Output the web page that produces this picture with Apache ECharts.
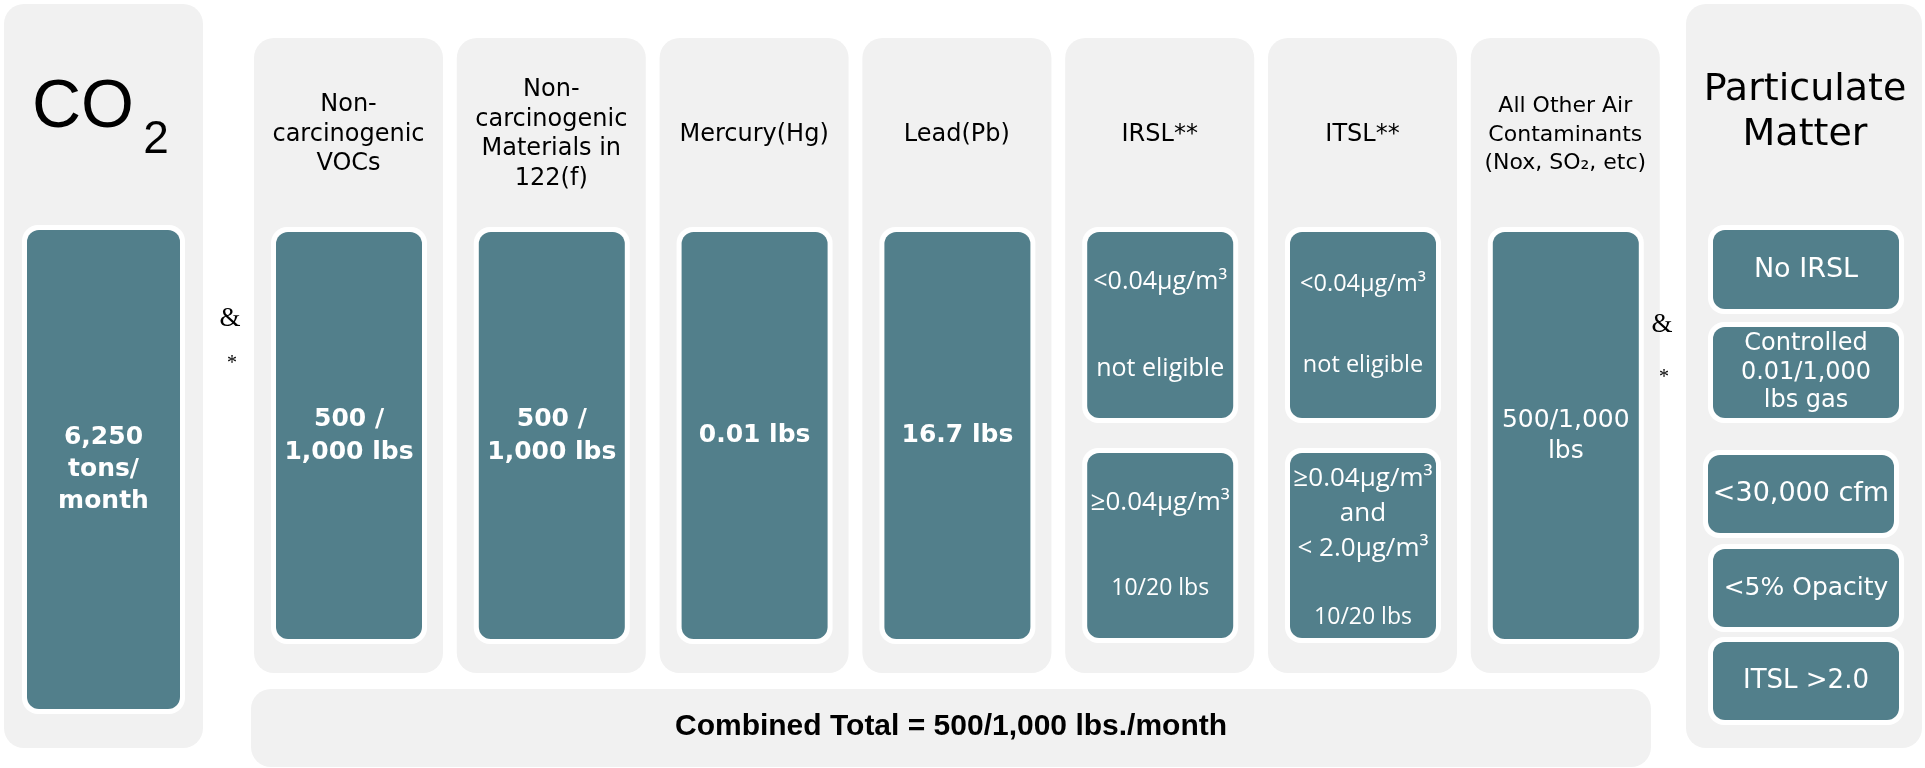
<!DOCTYPE html>
<html>
<head>
<meta charset="utf-8">
<script src="https://cdn.jsdelivr.net/npm/echarts@6/dist/echarts.min.js"></script>
<style>
  html, body { margin: 0; padding: 0; background: #fff; }
  #main { width: 1925px; height: 768px; }
</style>
</head>
<body>
<div id="main"></div>
<script>
// ---- content of the diagram ----
var co2Label = ['CO', '2'];
var co2Limit = ['6,250', 'tons/', 'month'];
var columnTitles = [
  ['Non-', 'carcinogenic', 'VOCs'],
  ['Non-', 'carcinogenic', 'Materials in', '122(f)'],
  ['Mercury(Hg)'],
  ['Lead(Pb)'],
  ['IRSL**'],
  ['ITSL**'],
  ['All Other Air', 'Contaminants', '(Nox, SO\u2082, etc)']
];
var columnLimits = [
  ['500 /', '1,000 lbs'],
  ['500 /', '1,000 lbs'],
  ['0.01 lbs'],
  ['16.7 lbs'],
  null,
  null,
  ['500/1,000', 'lbs']
];
var irslTiers = [
  [['<0.04µg/m³'], ['not eligible']],
  [['≥0.04µg/m³'], ['10/20 lbs']]
];
var itslTiers = [
  [['<0.04µg/m³'], ['not eligible']],
  [['≥0.04µg/m³', 'and', '< 2.0µg/m³'], ['10/20 lbs']]
];
var pmTitle = ['Particulate', 'Matter'];
var pmLimits = [['No IRSL'], ['Controlled', '0.01/1,000', 'lbs gas'], ['<30,000 cfm'], ['<5% Opacity'], ['ITSL >2.0']];
var joiners = ['&', '*'];
var combinedTotal = 'Combined Total = 500/1,000 lbs./month';

// ---- layout (in pixel units of the hidden axes) ----
var W = 1925, H = 768;
var colX0 = 254, colStep = 202.8, colW = 189;
var colTop = 38, colBottom = 673;
var boxInset = 22, boxW = 146;
var boxTop = 232, boxBottom = 639;
var tierRows = [[232, 418], [453, 638]];
var pmRows = [[1713, 1899, 230, 309], [1713, 1899, 327, 418], [1708, 1894, 455, 533], [1713, 1899, 549, 627], [1713, 1899, 642, 720]];
var pmFonts = [[27, 30], [24, 28.5], [27, 30], [25, 30], [26, 30]];
var TEAL = '#527f8b';
var GRAY = '#f1f1f1';
var SANS = '"DejaVu Sans", Verdana, sans-serif';
var OPEN = '"Open Sans", "Noto Sans", sans-serif';
var ARIAL = '"Liberation Sans", Arial, sans-serif';

function colX(i) { return colX0 + i * colStep; }

// gray panels
var panels = [[4, 4, 203, 748]];
columnTitles.forEach(function (t, i) {
  panels.push([colX(i), colTop, colX(i) + colW, colBottom]);
});
panels.push([251, 689, 1651, 767]);
panels.push([1686, 4, 1922, 748]);

// teal boxes with their text
var boxes = [];
boxes.push({
  rect: [27, 230, 180, 709],
  style: { text: co2Limit.join('\n'), fontFamily: SANS, fontWeight: 'bold', fontSize: 25, lineHeight: 32 }
});
columnLimits.forEach(function (lines, i) {
  if (!lines) return;
  var x0 = colX(i) + boxInset;
  boxes.push({
    rect: [x0, boxTop, x0 + boxW, boxBottom],
    style: {
      text: lines.join('\n'), fontFamily: SANS,
      fontWeight: i === 6 ? 'normal' : 'bold', fontSize: 25, lineHeight: i === 6 ? 31 : 33
    }
  });
});

function tierText(tier, s) {
  var parts = tier[0].map(function (l) { return '{a|' + l + '}'; });
  parts.push('{g| }');
  tier[1].forEach(function (l) { parts.push('{b|' + l + '}'); });
  return {
    text: parts.join('\n'),
    rich: {
      a: { fontFamily: OPEN, fontSize: s[0], lineHeight: s[1], fill: '#fff' },
      g: { fontSize: 4, lineHeight: s[2] },
      b: { fontFamily: OPEN, fontSize: s[3], lineHeight: s[4], fill: '#fff' }
    }
  };
}
var tierStyles = [
  [[25, 43.5, 43.5, 25, 43.5], [26, 42.5, 42.5, 23, 42.5]],
  [[23.5, 40.5, 40.5, 23.5, 40.5], [26, 35, 38.5, 23, 26]]
];
[irslTiers, itslTiers].forEach(function (tiers, k) {
  var x0 = colX(4 + k) + boxInset;
  tiers.forEach(function (tier, j) {
    boxes.push({ rect: [x0, tierRows[j][0], x0 + boxW, tierRows[j][1]], style: tierText(tier, tierStyles[k][j]) });
  });
});
pmLimits.forEach(function (lines, j) {
  var r = pmRows[j];
  boxes.push({
    rect: [r[0], r[2], r[1], r[3]],
    style: { text: lines.join('\n'), fontFamily: SANS, fontSize: pmFonts[j][0], lineHeight: pmFonts[j][1] }
  });
});

// free text labels
var labels = [];
labels.push({ pos: [83, 108], style: { text: co2Label[0], fontFamily: ARIAL, fontSize: 68 } });
labels.push({ pos: [156, 140], style: { text: co2Label[1], fontFamily: ARIAL, fontSize: 46 } });
columnTitles.forEach(function (lines, i) {
  var last = i === 6;
  labels.push({
    pos: [colX(i) + colW / 2, last ? 135 : 134.5],
    style: { text: lines.join('\n'), fontFamily: SANS, fontSize: last ? 22 : 24, lineHeight: last ? 28.5 : 29.5 }
  });
});
labels.push({ pos: [1805, 113], style: { text: pmTitle.join('\n'), fontFamily: SANS, fontSize: 38, lineHeight: 45 } });
[230, 1662].forEach(function (x, k) {
  labels.push({ pos: [x, k ? 325 : 319], style: { text: joiners[0], fontFamily: '"Liberation Serif", serif', fontSize: 27 } });
  labels.push({ pos: [x + 2, k ? 378 : 364], style: { text: joiners[1], fontFamily: '"Liberation Serif", serif', fontSize: 20 } });
});
labels.push({
  pos: [951, 727],
  style: { text: combinedTotal, fontFamily: ARIAL, fontWeight: 'bold', fontSize: 30 }
});

function rectOf(api) {
  var p0 = api.coord([api.value(0), api.value(1)]);
  var p1 = api.coord([api.value(2), api.value(3)]);
  return { x: p0[0], y: p0[1], width: p1[0] - p0[0], height: p1[1] - p0[1] };
}

var chart = echarts.init(document.getElementById('main'));
chart.setOption({
  animation: false,
  grid: { left: 0, right: 0, top: 0, bottom: 0 },
  xAxis: { type: 'value', min: 0, max: W, show: false },
  yAxis: { type: 'value', min: 0, max: H, inverse: true, show: false },
  series: [
    {
      type: 'custom',
      name: 'panels',
      data: panels,
      renderItem: function (params, api) {
        var r = rectOf(api);
        r.r = 20;
        return { type: 'rect', shape: r, style: { fill: GRAY } };
      }
    },
    {
      type: 'custom',
      name: 'limits',
      data: boxes.map(function (b) { return b.rect; }),
      renderItem: function (params, api) {
        var b = boxes[params.dataIndex];
        var r = rectOf(api);
        var st = Object.assign({ x: r.x + r.width / 2, y: r.y + r.height / 2, fill: '#fff', align: 'center', verticalAlign: 'middle' }, b.style);
        return {
          type: 'group',
          children: [
            { type: 'rect', shape: { x: r.x - 5, y: r.y - 5, width: r.width + 10, height: r.height + 10, r: 16 }, style: { fill: '#fff' } },
            { type: 'rect', shape: { x: r.x, y: r.y, width: r.width, height: r.height, r: 12 }, style: { fill: TEAL } },
            { type: 'text', style: st }
          ]
        };
      }
    },
    {
      type: 'custom',
      name: 'labels',
      data: labels.map(function (l) { return l.pos; }),
      renderItem: function (params, api) {
        var l = labels[params.dataIndex];
        var p = api.coord([api.value(0), api.value(1)]);
        return {
          type: 'text',
          style: Object.assign({ x: p[0], y: p[1], fill: '#000', align: 'center', verticalAlign: 'middle' }, l.style)
        };
      }
    }
  ]
});
</script>
</body>
</html>
